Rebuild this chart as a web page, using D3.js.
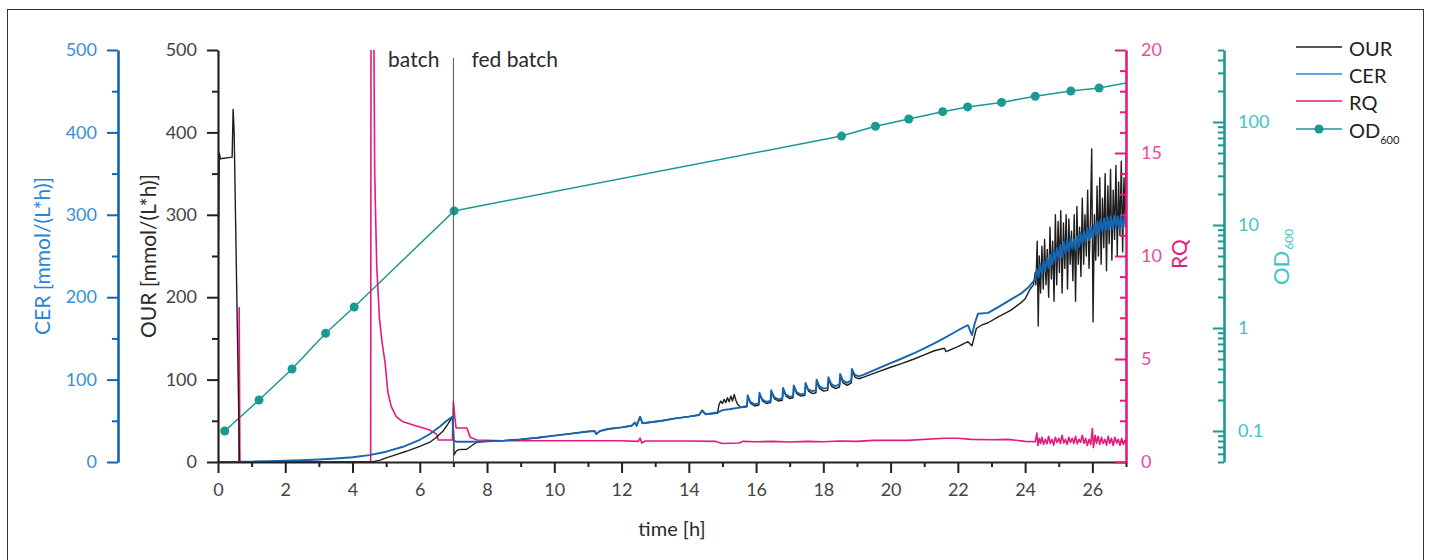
<!DOCTYPE html>
<html><head><meta charset="utf-8">
<script src="https://cdn.jsdelivr.net/npm/d3@7"></script>
<style>body{margin:0;background:#fff}svg{display:block;font-family:Lato,"Open Sans",sans-serif}</style>
</head><body><svg id="c" width="1432" height="560"></svg>
<script>
// ---------------- data ----------------
const xMajorTicks = [0,2,4,6,8,10,12,14,16,18,20,22,24,26];
const xMinorTicks = [1,3,5,7,9,11,13,15,17,19,21,23,25,27];
const leftMajorTicks = [0,100,200,300,400,500];
const leftMinorTicks = [50,150,250,350,450];
const rqMajorTicks = [0,5,10,15,20];
const rqMinorTicks = [1,2,3,4,6,7,8,9,11,12,13,14,16,17,18,19];
const odMajorTicks = [0.1,1,10,100];
const odMinorTicks = [0.05,0.06,0.07,0.08,0.09,0.2,0.3,0.4,0.5,0.6,0.7,0.8,0.9,2,3,4,5,6,7,8,9,20,30,40,50,60,70,80,90,200,300,400,500];

const phaseTime = 7.0;

const odData = [[0.2,0.1],[1.22,0.2],[2.2,0.4],[3.2,0.89],[4.05,1.6],[7.02,13.7],[18.54,73],[19.55,91],[20.54,107],[21.55,126],[22.29,140],[23.3,155],[24.3,178],[25.36,200],[26.2,214],[27.5,257]];

const ourData = [[0,240],[0.04,375],[0.07,368],[0.42,370],[0.45,428],[0.48,400],[0.64,0],[4.6,0.5],[4.8,2],[5.0,5],[5.3,9],[5.6,13],[6.0,19],[6.3,24],[6.5,30],[6.7,38],[6.85,47],[6.97,55],[7.0,40],[7.02,8.5],[7.08,13],[7.15,15],[7.4,15.5],[7.55,20],[7.7,24],[8.0,25],[8.5,26],[9,27.5],[9.5,29.5],[10,32],[10.5,34.5],[11,37],[11.2,37.5],[11.25,34],[11.35,37.5],[11.6,40],[12,42],[12.3,44],[12.4,48],[12.45,44],[12.55,55],[12.62,47],[12.8,48],[13.2,50],[13.6,53],[14.0,55],[14.3,57],[14.4,63],[14.5,58],[14.85,59],[14.9,70],[14.95,74],[15.0,71],[15.05,76],[15.1,72],[15.15,78],[15.2,73],[15.25,80],[15.3,74],[15.35,82],[15.4,75],[15.45,70],[15.55,66],[15.73,67],[15.76,79],[15.84,71],[15.96,68],[16.08,69],[16.11,82],[16.19,74],[16.31,71],[16.43,72],[16.46,85],[16.54,77],[16.66,74],[16.78,75],[16.81,88],[16.89,80],[17.0,77],[17.1,78],[17.13,91],[17.21,83],[17.33,80],[17.45,81],[17.48,94],[17.56,86],[17.68,83],[17.78,84],[17.81,97],[17.89,89],[18.01,86],[18.13,87],[18.16,100],[18.24,92],[18.36,89],[18.48,91],[18.51,104],[18.59,96],[18.71,93],[18.83,96],[18.86,111],[18.94,103],[19.06,101],[19.2,103],[19.6,109],[20.0,115],[20.3,119],[20.7,125],[21.0,130],[21.3,135],[21.6,138],[21.65,134],[22.0,140],[22.3,146],[22.42,141],[22.55,162],[22.7,166],[22.9,169],[23.2,176],[23.57,184],[23.9,194],[24.0,198],[24.15,210],[24.25,215],
[24.30,230],[24.32,215],[24.36,268],[24.39,165],[24.42,250],[24.46,205],[24.50,262],[24.54,210],[24.58,270],[24.62,215],[24.66,258],[24.70,200],[24.74,285],[24.78,222],[24.82,268],[24.86,195],[24.90,300],[24.94,215],[24.98,292],[25.02,230],[25.06,305],[25.10,205],[25.14,290],[25.18,235],[25.22,300],[25.26,210],[25.30,295],[25.34,240],[25.38,280],[25.42,220],[25.46,300],[25.50,195],[25.54,310],[25.58,240],[25.62,285],[25.66,225],[25.70,320],[25.74,240],[25.78,300],[25.82,250],[25.86,330],[25.90,235],[25.94,290],[25.98,380],[26.02,170],[26.06,300],[26.10,245],[26.14,335],[26.18,250],[26.22,345],[26.26,240],[26.30,320],[26.34,260],[26.38,350],[26.42,232],[26.46,335],[26.50,265],[26.54,355],[26.58,245],[26.62,330],[26.66,270],[26.70,360],[26.74,250],[26.78,340],[26.82,275],[26.86,365],[26.90,255],[26.94,345],[26.98,285],[27.00,372]];

const cerData = [[0,0],[0.5,0],[0.62,0.5],[1,0.5],[1.5,1],[2,1.5],[2.5,2.2],[3,3],[3.5,4.2],[4,5.8],[4.5,8.3],[5,12.5],[5.5,18.5],[6,27],[6.3,34],[6.6,43],[6.8,50],[6.97,55],[7.01,26],[7.1,24.5],[7.5,24.5],[8,25],[8.5,26],[9,27.5],[9.5,29.5],[10,32],[10.5,34.5],[11,37],[11.2,37.5],[11.25,34],[11.35,37.5],[11.6,40],[12,42],[12.3,44],[12.4,48],[12.45,44],[12.55,55],[12.62,47],[12.8,48],[13.2,50],[13.6,53],[14.0,55],[14.3,57],[14.4,62],[14.5,58],[14.85,60],[15.0,63],[15.2,64],[15.5,66],[15.73,68],[15.75,81],[15.83,73],[15.95,70],[16.08,71],[16.1,84],[16.18,76],[16.3,73],[16.43,74],[16.45,87],[16.53,79],[16.65,76],[16.78,77],[16.8,90],[16.88,82],[17.0,79],[17.1,80],[17.12,93],[17.2,85],[17.32,82],[17.45,83],[17.47,96],[17.55,88],[17.67,86],[17.78,87],[17.8,100],[17.88,92],[18.0,89],[18.13,90],[18.15,103],[18.23,95],[18.35,92],[18.48,94],[18.5,107],[18.58,99],[18.7,96],[18.83,99],[18.85,113],[18.93,106],[19.05,104],[19.2,106],[19.6,113],[20.0,120],[20.3,125],[20.7,132],[21.0,138],[21.4,146],[21.8,155],[22.1,162],[22.3,166],[22.38,158],[22.42,154],[22.5,168],[22.6,180],[22.9,181],[23.2,188],[23.57,197],[23.9,205],[24.1,212],
[24.30,222],[24.35,234],[24.40,224],[24.45,240],[24.50,227],[24.55,244],[24.60,232],[24.65,248],[24.70,235],[24.75,252],[24.80,239],[24.85,257],[24.90,243],[24.95,260],[25.00,247],[25.05,264],[25.10,249],[25.15,267],[25.20,253],[25.25,270],[25.30,255],[25.35,272],[25.40,259],[25.45,270],[25.50,257],[25.55,274],[25.60,261],[25.65,278],[25.70,264],[25.75,280],[25.80,267],[25.85,284],[25.90,269],[25.95,286],[26.00,271],[26.05,288],[26.10,275],[26.15,292],[26.20,277],[26.25,294],[26.30,279],[26.35,296],[26.40,281],[26.45,297],[26.50,282],[26.55,298],[26.60,283],[26.65,299],[26.70,284],[26.75,298],[26.80,283],[26.85,299],[26.90,284],[26.95,298],[27.00,288]];

const rqData = [[0,0],[0.62,0],[0.63,7.5],[0.65,0],[4.54,0],[4.55,22],[4.63,22],[4.66,14],[4.72,9.5],[4.8,7],[4.88,5.8],[4.97,4.8],[5.05,3.4],[5.15,2.7],[5.3,2.2],[5.5,1.95],[5.9,1.75],[6.3,1.55],[6.5,1.35],[6.55,1.07],[6.97,1.07],[7.0,2.95],[7.04,2.2],[7.08,1.65],[7.4,1.65],[7.5,1.2],[7.7,1.07],[8.5,1.03],[10,1.03],[12,1.03],[12.5,1.0],[12.55,1.16],[12.6,0.92],[12.7,1.02],[14,1.02],[14.8,1.0],[15,0.9],[15.5,0.92],[15.6,1.0],[16,0.98],[16.5,1.0],[17,0.97],[17.5,1.0],[18,0.98],[18.5,1.02],[19,1.0],[19.5,1.05],[20.5,1.05],[21.6,1.15],[22,1.15],[22.4,1.1],[23,1.08],[23.5,1.1],[24,1.0],[24.3,0.98],
[24.35,1.4],[24.38,0.8],[24.42,1.15],[24.46,0.9],[24.5,1.2],[24.55,0.85],[24.6,1.1],[24.65,0.88],[24.7,1.25],[24.75,0.9],[24.8,1.1],[24.85,0.82],[24.9,1.2],[24.95,0.95],[25.0,1.15],[25.05,0.9],[25.1,1.3],[25.15,0.92],[25.2,1.1],[25.25,0.85],[25.3,1.2],[25.35,0.95],[25.4,1.15],[25.45,0.9],[25.5,1.25],[25.55,0.88],[25.6,1.1],[25.65,0.95],[25.7,1.3],[25.75,0.9],[25.8,1.15],[25.85,0.8],[25.9,1.1],[25.95,0.85],[26.0,1.62],[26.03,0.7],[26.08,1.3],[26.12,0.9],[26.17,1.25],[26.22,0.85],[26.27,1.2],[26.32,0.9],[26.37,1.1],[26.42,0.82],[26.47,1.25],[26.52,0.9],[26.57,1.15],[26.62,0.8],[26.67,1.2],[26.72,0.92],[26.77,1.1],[26.82,0.8],[26.87,1.15],[26.92,0.85],[26.97,1.05],[27.0,0.9]];

// ---------------- layout ----------------
const svg = d3.select('#c');
const X0 = 218, X1 = 1126, YT = 50, YB = 462;
const x = d3.scaleLinear([0,27],[X0,X1]);
const yL = d3.scaleLinear([0,500],[YB,YT]);
const yRQ = d3.scaleLinear([0,20],[YB,YT]);
const yOD = d3.scaleLog([0.05,500],[YB,YT]);

const C = {our:'#1e1e1e', cer:'#1565b0', cerLbl:'#3a8fd6', rq:'#e6197f', rqLbl:'#ec4a9c', od:'#1a9a94', odLbl:'#3fc3c3', grey:'#444'};

svg.append('rect').attr('x',7.5).attr('y',9.5).attr('width',1416).attr('height',620)
  .attr('fill','none').attr('stroke','#333').attr('stroke-width',1);

svg.append('clipPath').attr('id','clip').append('rect')
  .attr('x',X0).attr('y',YT).attr('width',X1-X0).attr('height',YB-YT);

const plot = svg.append('g').attr('clip-path','url(#clip)');

// phase line
svg.append('line').attr('x1',x(phaseTime)).attr('x2',x(phaseTime)).attr('y1',58).attr('y2',YB)
  .attr('stroke','#555').attr('stroke-width',1);

// OD line + markers
plot.append('path').datum(odData).attr('fill','none').attr('stroke',C.od).attr('stroke-width',1.5)
  .attr('d', d3.line().x(d=>x(d[0])).y(d=>yOD(d[1])));
plot.selectAll('circle.od').data(odData).join('circle').attr('class','od')
  .attr('cx',d=>x(d[0])).attr('cy',d=>yOD(d[1])).attr('r',4.5).attr('fill',C.od);

// RQ
plot.append('path').datum(rqData).attr('fill','none').attr('stroke',C.rq).attr('stroke-width',1.6)
  .attr('stroke-linejoin','round')
  .attr('d', d3.line().x(d=>x(d[0])).y(d=>yRQ(d[1])));
// OUR
plot.append('path').datum(ourData).attr('fill','none').attr('stroke',C.our).attr('stroke-width',1.4)
  .attr('stroke-linejoin','round')
  .attr('d', d3.line().x(d=>x(d[0])).y(d=>yL(d[1])));
// CER
plot.append('path').datum(cerData).attr('fill','none').attr('stroke',C.cer).attr('stroke-width',1.9)
  .attr('stroke-linejoin','round')
  .attr('d', d3.line().x(d=>x(d[0])).y(d=>yL(d[1])));

// ---------------- axes ----------------
function styleAxis(g, color, lblColor, domainW){
  g.select('.domain').attr('stroke',color).attr('stroke-width',domainW);
  g.selectAll('.tick line').attr('stroke',color).attr('stroke-width',2);
  g.selectAll('.tick text').attr('fill',lblColor).style('font-size','18px').style('font-family','Lato, sans-serif');
}

// X axis
const gxm = svg.append('g').attr('transform',`translate(0,${YB})`)
  .call(d3.axisBottom(x).tickValues(xMinorTicks).tickSize(5).tickFormat('').tickSizeOuter(0));
gxm.select('.domain').remove();
gxm.selectAll('.tick line').attr('stroke','#222').attr('stroke-width',2);
const gx = svg.append('g').attr('transform',`translate(0,${YB})`)
  .call(d3.axisBottom(x).tickValues(xMajorTicks).tickSize(11).tickPadding(10).tickSizeOuter(0));
styleAxis(gx,'#222',C.grey,2);

// OUR axis
const goM = svg.append('g').attr('transform',`translate(${X0},0)`)
  .call(d3.axisLeft(yL).tickValues(leftMinorTicks).tickSize(6).tickFormat('').tickSizeOuter(0));
goM.select('.domain').remove();
goM.selectAll('.tick line').attr('stroke','#222').attr('stroke-width',2);
const go = svg.append('g').attr('transform',`translate(${X0},0)`)
  .call(d3.axisLeft(yL).tickValues(leftMajorTicks).tickSize(11).tickPadding(10).tickSizeOuter(0));
styleAxis(go,'#222',C.grey,2.2);

// CER axis
const CX = 118;
const gcM = svg.append('g').attr('transform',`translate(${CX},0)`)
  .call(d3.axisLeft(yL).tickValues(leftMinorTicks).tickSize(6).tickFormat('').tickSizeOuter(0));
gcM.select('.domain').remove();
gcM.selectAll('.tick line').attr('stroke',C.cer).attr('stroke-width',2);
const gc = svg.append('g').attr('transform',`translate(${CX},0)`)
  .call(d3.axisLeft(yL).tickValues(leftMajorTicks).tickSize(11).tickPadding(10).tickSizeOuter(0));
styleAxis(gc,C.cer,C.cerLbl,2.6);

// RQ axis (ticks inward, labels right)
const grM = svg.append('g').attr('transform',`translate(${X1},0)`)
  .call(d3.axisLeft(yRQ).tickValues(rqMinorTicks).tickSize(6).tickFormat('').tickSizeOuter(0));
grM.select('.domain').remove();
grM.selectAll('.tick line').attr('stroke',C.rq).attr('stroke-width',2);
const gr = svg.append('g').attr('transform',`translate(${X1},0)`)
  .call(d3.axisLeft(yRQ).tickValues(rqMajorTicks).tickSize(11).tickSizeOuter(0));
styleAxis(gr,C.rq,C.rqLbl,2.6);
gr.selectAll('.tick text').attr('x',15).attr('text-anchor','start');

// OD axis (log)
const ODX = 1224;
const gdM = svg.append('g').attr('transform',`translate(${ODX},0)`)
  .call(d3.axisLeft(yOD).tickValues(odMinorTicks).tickSize(6).tickFormat('').tickSizeOuter(0));
gdM.select('.domain').remove();
gdM.selectAll('.tick line').attr('stroke',C.od).attr('stroke-width',2);
const gd = svg.append('g').attr('transform',`translate(${ODX},0)`)
  .call(d3.axisLeft(yOD).tickValues(odMajorTicks).tickSize(11).tickFormat(d=>String(d)).tickSizeOuter(0));
styleAxis(gd,C.od,C.odLbl,2.6);
gd.selectAll('.tick text').attr('x',14).attr('text-anchor','start');

// ---------------- titles ----------------
function vTitle(cx, cy, color, text){
  return svg.append('text').attr('transform',`translate(${cx},${cy}) rotate(-90)`)
    .attr('text-anchor','middle').attr('dy','0.35em').attr('fill',color)
    .style('font-size','21px').text(text);
}
vTitle(43,256,'#2a86d2','CER [mmol/(L*h)]');
vTitle(149,256,'#2a2a2a','OUR [mmol/(L*h)]');
vTitle(1180,254,C.rq,'RQ');
const odT = svg.append('text').attr('transform',`translate(1281,257) rotate(-90)`)
  .attr('text-anchor','middle').attr('dy','0.35em').attr('fill',C.odLbl).style('font-size','22px');
odT.append('tspan').text('OD');
odT.append('tspan').attr('dy','4').attr('dx','1').style('font-size','12px').text('600');

svg.append('text').attr('x',(X0+X1)/2).attr('y',536).attr('text-anchor','middle')
  .attr('fill','#2a2a2a').style('font-size','20px').text('time [h]');

svg.append('text').attr('x',x(phaseTime)-14).attr('y',67).attr('text-anchor','end')
  .attr('fill','#2a2a2a').style('font-size','21px').text('batch');
svg.append('text').attr('x',x(phaseTime)+18).attr('y',67).attr('text-anchor','start')
  .attr('fill','#2a2a2a').style('font-size','21px').text('fed batch');

// ---------------- legend ----------------
const legendItems = [
  {name:'OUR', color:C.our, dot:false},
  {name:'CER', color:'#2f8ad6', dot:false},
  {name:'RQ', color:C.rq, dot:false},
  {name:'OD', sub:'600', color:C.od, dot:true}
];
const legendY = [47,74,101,129];
const lg = svg.append('g');
legendItems.forEach((it,i)=>{
  const y = legendY[i];
  lg.append('line').attr('x1',1296).attr('x2',1342).attr('y1',y).attr('y2',y)
    .attr('stroke',it.color).attr('stroke-width',1.6);
  if(it.dot) lg.append('circle').attr('cx',1319).attr('cy',y).attr('r',4.5).attr('fill',it.color);
  const t = lg.append('text').attr('x',1349).attr('y',y+9).attr('fill','#222').style('font-size','20px');
  t.append('tspan').text(it.name);
  if(it.sub) t.append('tspan').attr('dy','6').style('font-size','11px').text(it.sub);
});
</script></body></html>
